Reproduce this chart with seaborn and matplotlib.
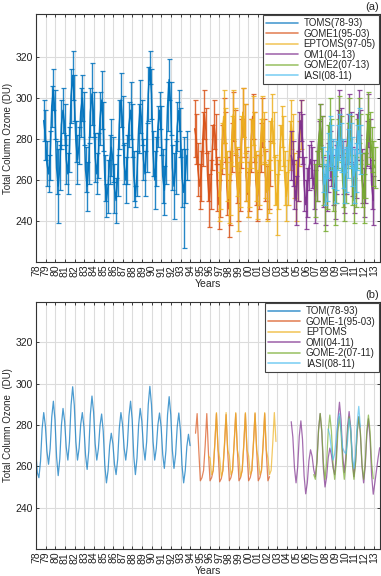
import numpy as np
import pandas as pd
import matplotlib
matplotlib.use("Agg")
import matplotlib.pyplot as plt
from matplotlib.lines import Line2D
import seaborn as sns

# ---------------- (a) measured monthly ozone, 2-month spacing, with error bars ----------------
toms_a_start = 1978.8
toms_a_mean = [289, 282,
               268, 263, 272, 296, 304, 292,
               266, 257, 266, 287, 294, 287,
               270, 263, 275, 301, 311, 300,
               279, 270, 277, 293, 300, 290,
               265, 257, 268, 293, 302, 292,
               271, 263, 272, 290, 299, 286,
               261, 250, 257, 270, 276, 270,
               256, 250, 262, 287, 299, 289,
               268, 260, 270, 287, 294, 284,
               262, 252, 263, 285, 296, 288,
               270, 263, 276, 302, 315, 302,
               273, 260, 269, 286, 294, 284,
               262, 255, 269, 296, 309, 295,
               266, 257, 266, 286, 294, 283,
               261, 254, 262, 272]
toms_a_err = [10, 12,
              11, 9, 12, 10, 10, 12,
              13, 18, 11, 12, 11, 10,
              12, 10, 11, 13, 12, 11,
              10, 12, 9, 12, 11, 13,
              11, 12, 10, 12, 15, 11,
              12, 10, 11, 13, 14, 12,
              11, 8, 13, 12, 14, 11,
              12, 11, 10, 12, 13, 12,
              10, 11, 12, 11, 14, 13,
              12, 5, 11, 12, 13, 11,
              10, 11, 12, 13, 8, 12,
              11, 14, 12, 10, 9, 12,
              13, 12, 11, 12, 10, 13,
              11, 16, 13, 12, 10, 12,
              14, 27, 13, 12]

gome1_a_start = 1994.45
gome1_a_mean = [285, 280, 265, 257,
                262, 280, 292, 284, 262, 250,
                258, 276, 287, 280, 258, 248,
                255, 275, 289, 281, 257, 246,
                256, 276, 291, 283, 262, 252,
                258, 278, 293, 284, 262, 253,
                257, 277, 291, 281, 260, 252,
                259, 276, 288, 279, 262, 254,
                258, 268]
gome1_a_err = [14, 12, 13, 11,
               12, 13, 12, 11, 12, 13,
               12, 11, 12, 12, 13, 12,
               13, 12, 11, 12, 14, 14,
               18, 12, 12, 11, 13, 12,
               13, 12, 12, 13, 12, 11,
               12, 13, 11, 12, 12, 12,
               13, 12, 12, 11, 12, 13,
               12, 11]

eptoms_a_start = 1996.95
eptoms_a_mean = [252,
                 258, 277, 291, 283, 262, 251,
                 256, 279, 292, 284, 264, 252,
                 259, 280, 293, 285, 263, 254,
                 258, 278, 289, 282, 262, 253,
                 260, 279, 290, 281, 263, 254,
                 257, 277, 290, 282, 260, 248,
                 258, 276, 286, 279, 261, 252,
                 259, 277, 287, 280, 262, 255,
                 262, 278, 287]
eptoms_a_err = [12,
                12, 11, 13, 12, 12, 12,
                13, 12, 12, 11, 12, 17,
                12, 11, 12, 12, 13, 12,
                11, 12, 12, 11, 12, 12,
                12, 11, 11, 12, 12, 14,
                13, 12, 12, 11, 12, 15,
                12, 11, 10, 12, 13, 12,
                11, 12, 12, 12, 11, 15,
                12, 11, 12]

omi_a_start = 2004.45
omi_a_mean = [272, 268, 258, 250,
              262, 282, 289, 280, 258, 248,
              254, 266, 270, 266, 258, 252,
              262, 278, 287, 279, 259, 250,
              256, 266, 272, 268, 260, 254,
              265, 283, 292, 283, 266, 256,
              264, 280, 291, 281, 264, 256,
              263, 281, 293, 282, 262, 254,
              261, 278, 289, 278, 258, 250]
omi_a_err = [12, 11, 12, 12,
             12, 11, 10, 12, 13, 12,
             12, 11, 9, 10, 12, 13,
             12, 11, 10, 12, 12, 12,
             11, 12, 12, 11, 12, 13,
             12, 11, 12, 12, 13, 12,
             11, 12, 11, 12, 12, 12,
             12, 11, 11, 12, 13, 12,
             12, 11, 13, 12, 12, 12]

gome2_a_start = 2006.95
gome2_a_mean = [255,
                262, 279, 286, 279, 260, 249,
                258, 276, 288, 278, 258, 250,
                260, 278, 289, 280, 259, 252,
                261, 277, 288, 279, 260, 250,
                259, 278, 289, 280, 260, 251,
                262, 280, 291, 282, 275, 268,
                266]
gome2_a_err = [13,
               12, 11, 11, 12, 12, 14,
               12, 11, 12, 12, 13, 12,
               11, 12, 12, 11, 12, 12,
               12, 11, 12, 12, 12, 11,
               12, 12, 11, 12, 13, 12,
               11, 12, 12, 11, 11, 11,
               10]

iasi_a_start = 2007.783
iasi_a_mean = [265, 258,
               262, 272, 279, 276, 268, 262,
               267, 276, 281, 276, 268, 262,
               265, 273, 280, 277, 269, 262,
               266, 276, 284, 275]
iasi_a_err = [11, 10,
              12, 11, 12, 11, 12, 13,
              12, 11, 11, 12, 12, 13,
              11, 12, 12, 11, 12, 13,
              12, 11, 11, 12]

# ---------------- (b) fitted seasonal curves, 2-month spacing ----------------
toms_b_start = 1977.967
toms_b = [268,
          257, 254.5, 262.4, 278.1, 286, 279.8,
          267.3, 261, 268.6, 283.9, 291.5, 282.5,
          264.5, 255.5, 263.6, 279.9, 288, 281.8,
          269.3, 263, 271.9, 289.6, 298.5, 289.6,
          271.9, 263, 268.8, 280.3, 286, 279.1,
          265.4, 258.5, 267.4, 285.1, 294, 286.3,
          270.8, 263, 268.6, 279.7, 285.3, 277,
          260.3, 252, 258, 270, 276, 271,
          261, 256, 263.5, 278.5, 286, 280.3,
          268.8, 263, 270.1, 284.4, 291.5, 282.6,
          264.9, 256, 264, 280, 288, 281.8,
          269.3, 263, 271.9, 289.8, 298.7, 289.8,
          271.9, 263, 268.7, 280.1, 285.8, 279.1,
          265.7, 259, 267.7, 285, 293.7, 285,
          267.7, 259, 265.7, 279.1, 285.8, 277.3,
          260.4, 252, 257.9, 269.6, 275.5, 270]

gome1_b_start = 1994.533
gome1_b = [276, 285.5, 268,
           253, 254.5, 258, 270, 285.5, 267,
           253, 254.5, 258, 271, 285.5, 268,
           252.5, 254, 258, 270, 285, 267,
           253, 254.5, 258, 271, 285.5, 268,
           253, 254.5, 258, 270, 285.5, 267,
           253, 254.5, 258, 271, 285.5, 268,
           253, 254.5, 258, 270, 285.5, 267,
           253, 255]

eptoms_b_start = 1995.867
eptoms_b = [265,
            264, 256, 258, 271, 286, 268,
            264, 255, 258, 271, 286, 268,
            265, 256, 258, 271, 286, 268,
            264, 255, 258, 271, 286, 268,
            265, 256, 258, 271, 286, 268,
            264, 256, 258, 271, 286, 268,
            264, 256, 258, 271, 286, 272]

omi_b_start = 2004.45
omi_b = [281.6, 274.2, 259.4, 252,
         259.5, 274.5, 282, 273.2, 255.5, 246.7,
         252, 262.7, 268, 264.8, 258.3, 255,
         262.6, 277.9, 285.5, 276.6, 258.9, 250,
         254.7, 264.1, 268.8, 265.6, 259.2, 256,
         264.8, 282.3, 291, 282.5, 265.5, 257,
         264.4, 279.1, 286.5, 278.6, 262.9, 255,
         262.3, 276.8, 284, 276, 260, 252,
         259.8, 275.3, 283, 273.9, 255.6, 246.5,
         252, 258, 264, 269]

gome2_b_start = 2006.783
gome2_b = [256, 253.7,
           261.7, 277.6, 285.6, 277.6, 261.7, 253.7,
           261.5, 277, 284.8, 277, 261.5, 253.7,
           261.3, 276.4, 284, 276.4, 261.3, 253.7,
           261.3, 276.4, 284, 276.4, 261.3, 253.7,
           261.3, 276.4, 284, 276.4, 261.3, 253.7,
           261.5, 277, 284.8, 277, 261.7, 254]

iasi_b_start = 2008.283
iasi_b = [278, 275, 268, 263, 266,
          274, 282, 285.5, 277, 269, 267,
          266, 272, 283, 278, 265, 259,
          266, 281, 289, 279]

colors = ["#0072BD", "#D95319", "#EDB120", "#7E2F8E", "#77AC30", "#4DBEEE"]
labels_a = ["TOMS(78-93)", "GOME1(95-03)", "EPTOMS(97-05)", "OM1(04-13)",
            "GOME2(07-13)", "IASI(08-11)"]
labels_b = ["TOM(78-93)", "GOME-1(95-03)", "EPTOMS", "OMI(04-11)",
            "GOME-2(07-11)", "IASI(08-11)"]

sns.set_theme(style="whitegrid")
plt.rcParams["font.family"] = ["Liberation Sans", "DejaVu Sans"]

fig = plt.figure(figsize=(3.81, 5.76), dpi=100)
ax1 = fig.add_axes([36 / 381, 1 - 262 / 576, 344 / 381, 248 / 576])
ax2 = fig.add_axes([36 / 381, 1 - 549 / 576, 344 / 381, 247 / 576])

series_a = [(toms_a_start, toms_a_mean, toms_a_err),
            (gome1_a_start, gome1_a_mean, gome1_a_err),
            (eptoms_a_start, eptoms_a_mean, eptoms_a_err),
            (omi_a_start, omi_a_mean, omi_a_err),
            (gome2_a_start, gome2_a_mean, gome2_a_err),
            (iasi_a_start, iasi_a_mean, iasi_a_err)]
for (start, mean, err), c in zip(series_a, colors):
    df = pd.DataFrame({"year": start + np.arange(len(mean)) / 6, "o3": mean})
    sns.lineplot(data=df, x="year", y="o3", color=c, lw=1.1, alpha=0.95, ax=ax1)
    ax1.errorbar(df["year"], df["o3"], yerr=err, fmt="none", ecolor=c,
                 elinewidth=1.0, capsize=1.8, capthick=0.9, alpha=0.85)

series_b = [(toms_b_start, toms_b), (gome1_b_start, gome1_b),
            (eptoms_b_start, eptoms_b), (omi_b_start, omi_b),
            (gome2_b_start, gome2_b), (iasi_b_start, iasi_b)]
for (start, vals), c in zip(series_b, colors):
    df = pd.DataFrame({"year": start + np.arange(len(vals)) / 6, "o3": vals})
    sns.lineplot(data=df, x="year", y="o3", color=c, lw=0.9, alpha=0.7, ax=ax2)

years = list(range(1978, 2014))
for ax, ylim, labels, tag in [(ax1, (220, 341), labels_a, "(a)"),
                              (ax2, (220, 339.5), labels_b, "(b)")]:
    ax.set_xlim(1978, 2013.65)
    ax.set_ylim(*ylim)
    ax.set_xticks(years)
    ax.set_xticklabels([f"{y % 100:02d}" for y in years], rotation=90)
    ax.set_yticks([240, 260, 280, 300, 320])
    ax.grid(True, color="#dcdcdc", lw=0.8)
    ax.tick_params(direction="in", length=2.5, width=0.6, labelsize=7.5, pad=2,
                   bottom=True, left=True, top=True, right=True, colors="#222222")
    for sp in ax.spines.values():
        sp.set_color("#333333")
        sp.set_linewidth(0.8)
    ax.set_xlabel("Years", fontsize=7.5, labelpad=1.5)
    handles = [Line2D([], [], color=c, lw=1.2, alpha=0.7) for c in colors]
    leg = ax.legend(handles, labels, loc="upper right", fontsize=7, frameon=True,
                    fancybox=False, framealpha=1, edgecolor="#444444",
                    handlelength=3.3, labelspacing=0.05, borderpad=0.3,
                    handletextpad=0.6, borderaxespad=0.15)
    leg.get_frame().set_linewidth(0.8)
    bbox = ax.get_position()
    fig.text(0.978, bbox.y1 + 0.004, tag, fontsize=8, ha="center", va="bottom")

ax1.set_ylabel("Total Column Ozone (DU)", fontsize=7)
ax2.set_ylabel("Total Column Ozone  (DU)", fontsize=7)
for ax in (ax1, ax2):
    ax.yaxis.set_label_coords(-0.068, 0.5)

fig.savefig("out.png", dpi=100)
